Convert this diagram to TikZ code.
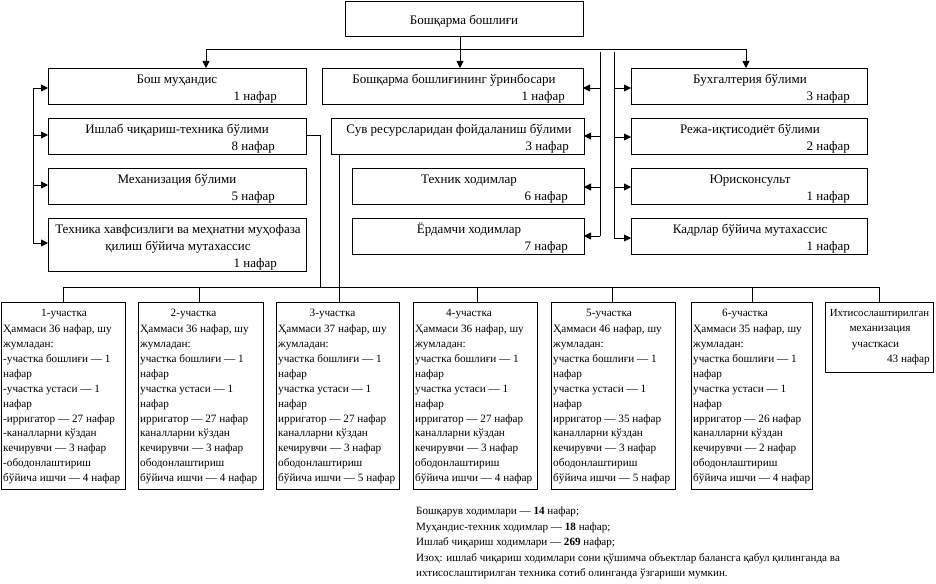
\documentclass[tikz,border=0pt]{standalone}
\usepackage{fontspec}
\setmainfont{Liberation Serif}
\usetikzlibrary{arrows.meta}
\newcommand\bx[5]{\node[box, minimum width={(#4-#2)*1pt}, minimum height={(#5-#3)*1pt}] (#1) at (#2,#3) {};}
\newcommand\ubody[5]{\strut Ҳаммаси #2 нафар, шу\\ жумладан:\\ #1участка бошлиғи — 1\\ нафар\\ #1участка устаси — 1\\ нафар\\ #1ирригатор — #3 нафар\\ #1каналларни кўздан\\ кечирувчи — #4 нафар\\ #1ободонлаштириш\\ бўйича ишчи — #5 нафар}
\begin{document}
\begin{tikzpicture}[x=1pt,y=-1pt,
  box/.style={draw, line width=0.9pt, inner sep=0pt, outer sep=0pt, anchor=north west},
  ln/.style={line width=0.9pt},
  arr/.style={ln, -{Triangle[length=7pt,width=7pt]}},
  ttl/.style={font=\fontsize{13}{17}\selectfont, inner sep=0pt, anchor=mid, yshift=-2.5pt},
  num/.style={ttl, anchor=mid east},
  sm/.style={font=\fontsize{11.2}{14.9}\selectfont, inner sep=0pt, anchor=mid, yshift=-2pt},
  smnum/.style={sm, anchor=mid east},
  body/.style={font=\fontsize{11.2}{14.9}\selectfont, inner sep=0pt, anchor=north west, align=left, yshift=-2pt},
  note/.style={font=\fontsize{11.1}{15.4}\selectfont, inner sep=0pt, anchor=north west, align=left, yshift=-1pt}]
\useasboundingbox (0,0) rectangle (936,583);
% boxes
\bx{top}{345}{1}{583}{36}
\bx{L1}{48}{68}{306}{104}
\bx{L2}{48}{118}{306}{154}
\bx{L3}{48}{168}{306}{204}
\bx{L4}{48}{218}{306}{271}
\bx{M1}{322}{68}{583}{104}
\bx{M2}{331}{118}{584}{154}
\bx{M3}{352}{168}{584}{204}
\bx{M4}{352}{218}{584}{254}
\bx{R1}{631}{68}{867}{104}
\bx{R2}{631}{118}{867}{154}
\bx{R3}{631}{168}{867}{204}
\bx{R4}{631}{218}{867}{254}
\bx{U1}{1}{302}{125}{489}
\bx{U2}{138}{302}{263}{489}
\bx{U3}{276}{302}{399}{489}
\bx{U4}{413}{302}{537}{489}
\bx{U5}{551}{302}{675}{489}
\bx{U6}{691}{302}{812}{489}
\bx{U7}{825}{302}{933}{372}
% texts top
\node[ttl] (ttop) at (464,20) {Бошқарма бошлиғи};
\node[ttl] (tL1) at (177,79) {Бош муҳандис};
\node[num] (nL1) at (277,96) {1 нафар};
\node[ttl] (tL2) at (177,129) {Ишлаб чиқариш-техника бўлими};
\node[num] (nL2) at (275,146) {8 нафар};
\node[ttl] (tL3) at (177,179) {Механизация бўлими};
\node[num] (nL3) at (275,196) {5 нафар};
\node[ttl] (tL4a) at (178,229) {Техника хавфсизлиги ва меҳнатни муҳофаза};
\node[ttl] (tL4b) at (178,246) {қилиш бўйича мутахассис};
\node[num] (nL4) at (277,263) {1 нафар};
\node[ttl] (tM1) at (454,79) {Бошқарма бошлиғининг ўринбосари};
\node[num] (nM1) at (565,96) {1 нафар};
\node[ttl] (tM2) at (459,129) {Сув ресурсларидан фойдаланиш бўлими};
\node[num] (nM2) at (569,146) {3 нафар};
\node[ttl] (tM3) at (469,179) {Техник ходимлар};
\node[num] (nM3) at (568,196) {6 нафар};
\node[ttl] (tM4) at (469,229) {Ёрдамчи ходимлар};
\node[num] (nM4) at (568,246) {7 нафар};
\node[ttl] (tR1) at (750,79) {Бухгалтерия бўлими};
\node[num] (nR1) at (850,96) {3 нафар};
\node[ttl] (tR2) at (750,129) {Режа-иқтисодиёт бўлими};
\node[num] (nR2) at (850,146) {2 нафар};
\node[ttl] (tR3) at (750,179) {Юрисконсульт};
\node[num] (nR3) at (850,196) {1 нафар};
\node[ttl] (tR4) at (750,229) {Кадрлар бўйича мутахассис};
\node[num] (nR4) at (850,246) {1 нафар};
% texts bottom
\node[sm] (tU1) at (64,312) {1-участка};
\node[sm] (tU2) at (193.5,312) {2-участка};
\node[sm] (tU3) at (332.5,312) {3-участка};
\node[sm] (tU4) at (469,312) {4-участка};
\node[sm] (tU5) at (609,312) {5-участка};
\node[sm] (tU6) at (745,312) {6-участка};
\node[body] (bU1) at (3,320) {\ubody{-}{36}{27}{3}{4}};
\node[body] (bU2) at (140,320) {\ubody{}{36}{27}{3}{4}};
\node[body] (bU3) at (278,320) {\ubody{}{37}{27}{3}{5}};
\node[body] (bU4) at (415,320) {\ubody{}{36}{27}{3}{4}};
\node[body] (bU5) at (553,320) {\ubody{}{46}{35}{3}{5}};
\node[body] (bU6) at (693,320) {\ubody{}{35}{26}{2}{4}};
\node[sm, font=\fontsize{10.8}{14.9}\selectfont] (tU7a) at (879.5,312) {Ихтисослаштирилган};
\node[sm] (tU7b) at (880,327.5) {механизация};
\node[sm] (tU7c) at (875.5,343) {участкаси};
\node[smnum] (nU7) at (930,358) {43 нафар};
% note
\node[note] (note) at (416,503) {\strut Бошқарув ходимлари — \textbf{14} нафар;\\
Муҳандис-техник ходимлар — \textbf{18} нафар;\\
Ишлаб чиқариш ходимлари — \textbf{269} нафар;\\
Изоҳ: ишлаб чиқариш ходимлари сони қўшимча объектлар балансга қабул қилинганда ва\\
ихтисослаштирилган техника сотиб олинганда ўзгариши мумкин.};
% connectors top
\coordinate (hL) at (206,49);
\coordinate (hC) at (460,49);
\coordinate (hR) at (746,49);
\draw[ln] (hC |- top.south) -- (hC);
\draw[ln] (hL) -- (hR);
\draw[arr] (hL) -- (hL |- L1.north);
\draw[arr] (hC) -- (hC |- M1.north);
\draw[arr] (hR) -- (hR |- R1.north);
% left bracket
\coordinate (lb1) at (33,88);
\coordinate (lb2) at (33,135);
\coordinate (lb3) at (33,185);
\coordinate (lb4) at (33,243);
\draw[ln] (lb1) -- (lb4);
\draw[arr] (lb1) -- (lb1 -| L1.west);
\draw[arr] (lb2) -- (lb2 -| L2.west);
\draw[arr] (lb3) -- (lb3 -| L3.west);
\draw[arr] (lb4) -- (lb4 -| L4.west);
% middle bar
\coordinate (mt) at (600,52);
\coordinate (m1) at (600,88);
\coordinate (m2) at (600,136);
\coordinate (m3) at (600,187);
\coordinate (m4) at (600,236);
\draw[ln] (mt) -- (m4);
\draw[arr] (m1) -- (m1 -| M1.east);
\draw[arr] (m2) -- (m2 -| M2.east);
\draw[arr] (m3) -- (m3 -| M3.east);
\draw[arr] (m4) -- (m4 -| M4.east);
% right bar
\coordinate (rt) at (614,52);
\coordinate (r1) at (614,88);
\coordinate (r2) at (614,137);
\coordinate (r3) at (614,187);
\coordinate (r4) at (614,238);
\draw[ln] (rt) -- (r4);
\draw[arr] (r1) -- (r1 -| R1.west);
\draw[arr] (r2) -- (r2 -| R2.west);
\draw[arr] (r3) -- (r3 -| R3.west);
\draw[arr] (r4) -- (r4 -| R4.west);
% to bottom
\coordinate (ik) at (320,135);
\coordinate (sv) at (339,154);
\coordinate (bl) at (63,287);
\coordinate (br) at (879,287);
\draw[ln] (ik -| L2.east) -- (ik) -- (ik |- bl);
\draw[ln] (sv) -- (sv |- U3.north);
\draw[ln] (bl) -- (br);
\draw[ln] (bl) -- (bl |- U1.north);
\draw[ln] (bl -| 199,0) -- (199,302);
\draw[ln] (bl -| 477,0) -- (477,302);
\draw[ln] (bl -| 612,0) -- (612,302);
\draw[ln] (bl -| 752,0) -- (752,302);
\draw[ln] (br) -- (br |- U7.north);
\end{tikzpicture}
\end{document}
